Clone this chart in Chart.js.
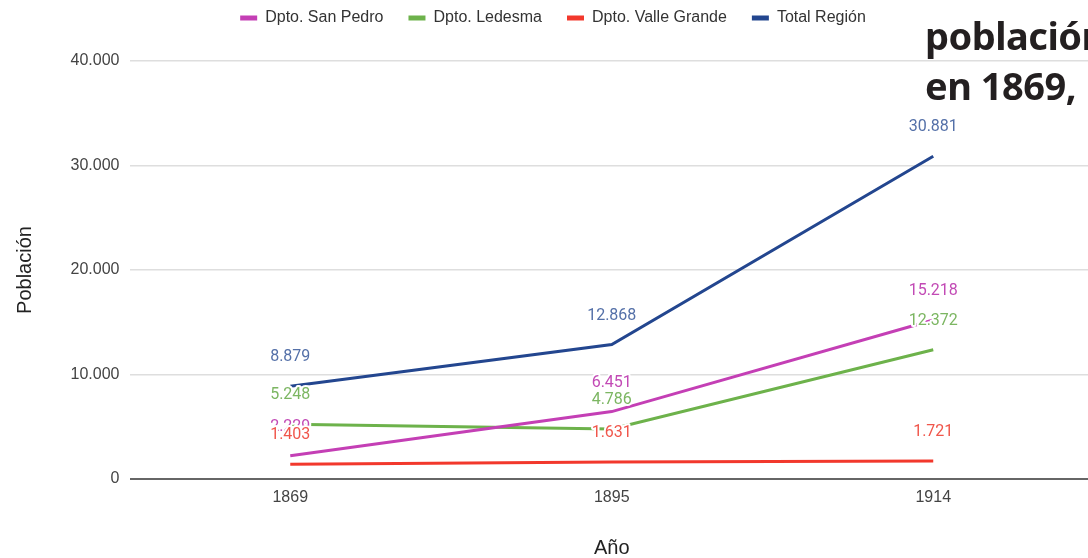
<!DOCTYPE html>
<html lang="es">
<head>
<meta charset="utf-8">
<title>Población por departamento</title>
<script src="https://cdn.jsdelivr.net/npm/chart.js@4.4.1/dist/chart.umd.min.js"></script>
<style>
  html, body { margin: 0; padding: 0; background: #fff; overflow: hidden; }
  #wrap { position: relative; width: 1088px; height: 558px; overflow: hidden; }
  #box { position: absolute; left: 0; top: 0; width: 1094px; height: 558px; }
  #side {
    position: absolute; left: 925px; top: 10px; white-space: nowrap;
    font-family: "Noto Sans", sans-serif; font-weight: 700; font-size: 38px;
    line-height: 50px; color: #231f20; letter-spacing: -0.5px;
  }
</style>
</head>
<body>
<div id="wrap">
  <div id="box"><canvas id="chart"></canvas></div>
  <div id="side">población<br>en 1869,</div>
</div>
<script>
// --- data ---
const years = ["1869", "1895", "1914"];
const sanPedro = [2229, 6451, 15218];
const ledesma = [5248, 4786, 12372];
const valleGrande = [1403, 1631, 1721];
const totalRegion = [8879, 12868, 30881];
const yTicks = [0, 10000, 20000, 30000, 40000];

const COLORS = {
  sanPedro: "#c43fb5",
  ledesma: "#6db24b",
  valle: "#f2382c",
  total: "#23468f"
};
const LABEL_COLORS = ["#c24ab5", "#7cb662", "#f0564b", "#5470a8"];

// 40000 -> "40.000"
const fmt = (v) => String(Math.round(v)).replace(/\B(?=(\d{3})+(?!\d))/g, ".");

function ds(label, data, color) {
  return {
    label,
    data,
    borderColor: color,
    backgroundColor: color,
    borderWidth: 3,
    pointRadius: 0,
    tension: 0
  };
}

// value labels with a white halo, drawn after every line
const valueLabels = {
  id: "valueLabels",
  afterDatasetsDraw(chart) {
    const ctx = chart.ctx;
    ctx.save();
    ctx.font = "16px Roboto";
    ctx.textAlign = "center";
    ctx.textBaseline = "middle";
    ctx.lineJoin = "round";
    chart.data.datasets.forEach((d, i) => {
      const meta = chart.getDatasetMeta(i);
      meta.data.forEach((pt, j) => {
        const x = pt.x, y = pt.y - 29;
        const txt = fmt(d.data[j]);
        ctx.strokeStyle = "#fff";
        ctx.lineWidth = 4;
        ctx.strokeText(txt, x, y);
        ctx.fillStyle = LABEL_COLORS[i];
        ctx.fillText(txt, x, y);
      });
    });
    ctx.restore();
  }
};

// legend sits in a taller band than chart.js would give it
const legendBand = {
  id: "legendBand",
  beforeInit(chart) {
    const fit = chart.legend.fit;
    chart.legend.fit = function () {
      fit.bind(chart.legend)();
      this.height = 61;
    };
  },
  afterLayout(chart) {
    const lg = chart.legend;
    lg.top -= 15; lg.bottom -= 15;
    lg.left += 6; lg.right += 6;
  }
};

new Chart(document.getElementById("chart").getContext("2d"), {
  type: "line",
  data: {
    labels: years,
    datasets: [
      ds("Dpto. San Pedro", sanPedro, COLORS.sanPedro),
      ds("Dpto. Ledesma", ledesma, COLORS.ledesma),
      ds("Dpto. Valle Grande", valleGrande, COLORS.valle),
      ds("Total Región", totalRegion, COLORS.total)
    ]
  },
  options: {
    responsive: true,
    maintainAspectRatio: false,
    animation: false,
    layout: { padding: 0 },
    plugins: {
      tooltip: { enabled: false },
      legend: {
        position: "top",
        labels: {
          boxWidth: 17,
          boxHeight: 5,
          padding: 25,
          color: "#333",
          font: { family: "'Liberation Sans', Arial, sans-serif", size: 16 },
          generateLabels(chart) {
            const items = Chart.defaults.plugins.legend.labels.generateLabels(chart);
            items.forEach(it => { it.lineWidth = 0; it.fillStyle = it.strokeStyle; });
            return items;
          }
        }
      }
    },
    scales: {
      x: {
        offset: true,
        grid: { display: false, drawTicks: false },
        border: { display: false },
        ticks: {
          padding: 9,
          color: "#444",
          font: { family: "'Liberation Sans', Arial, sans-serif", size: 16 }
        },
        title: {
          display: true,
          text: "Año",
          color: "#222",
          padding: { top: 0, bottom: 0 },
          font: { family: "'Liberation Sans', Arial, sans-serif", size: 20, lineHeight: 1 }
        },
        afterFit(scale) { scale.height = 79; }
      },
      y: {
        min: 0,
        max: 40000,
        afterBuildTicks(scale) { scale.ticks = yTicks.map(v => ({ value: v })); },
        grid: {
          drawTicks: false,
          color: (c) => (c.tick && c.tick.value === 0 ? "#666" : "#dedede"),
          lineWidth: (c) => (c.tick && c.tick.value === 0 ? 2 : 1.5)
        },
        border: { display: false },
        ticks: {
          padding: 10,
          color: "#444",
          font: { family: "'Liberation Sans', Arial, sans-serif", size: 16 },
          callback: (v) => fmt(v)
        },
        title: {
          display: true,
          text: "Población",
          color: "#222",
          padding: { top: 13, bottom: 0 },
          font: { family: "'Liberation Sans', Arial, sans-serif", size: 20 }
        },
        afterFit(scale) { scale.width = 129.5; }
      }
    }
  },
  plugins: [legendBand, valueLabels]
});
</script>
</body>
</html>
